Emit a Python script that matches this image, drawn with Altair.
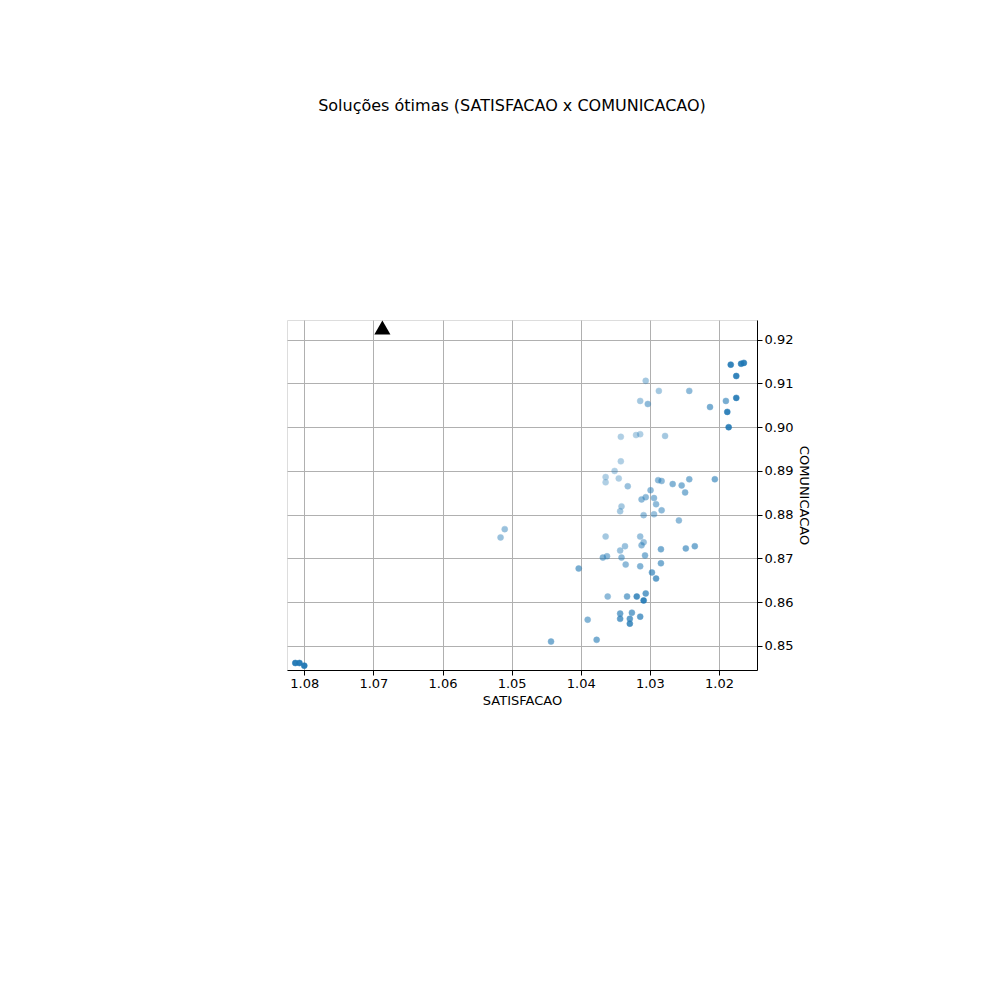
import altair as alt
import pandas as pd

sat = [1.0813,1.0807,1.0800,
       1.0183,1.0168,1.0164,1.0175,1.0190,1.0175,1.0188,1.0186,
       1.0306,1.0287,1.0243,1.0314,1.0303,1.0213,
       1.0342,1.0320,1.0314,1.0278,
       1.0342,1.0351,1.0364,1.0345,1.0364,1.0332,1.0299,1.0288,1.0283,1.0267,1.0254,1.0243,1.0206,1.0249,1.0306,1.0312,1.0294,1.0291,1.0341,1.0343,1.0309,1.0294,1.0283,1.0258,
       1.0510,1.0516,1.0364,1.0314,1.0309,1.0336,1.0312,1.0343,1.0362,1.0368,1.0341,1.0307,1.0248,1.0235,1.0284,1.0335,1.0314,1.0284,1.0297,1.0291,1.0403,
       1.0361,1.0333,1.0319,1.0309,1.0306,1.0343,1.0326,1.0343,1.0329,1.0314,1.0329,1.0390,1.0377,1.0443]
com = [0.8461,0.8461,0.8455,
       0.9143,0.9145,0.9147,0.9117,0.9060,0.9067,0.9035,0.9000,
       0.9106,0.9083,0.9083,0.9060,0.9053,0.9046,
       0.8978,0.8982,0.8984,0.8980,
       0.8922,0.8900,0.8886,0.8883,0.8874,0.8865,0.8856,0.8879,0.8877,0.8870,0.8867,0.8881,0.8881,0.8851,0.8840,0.8835,0.8838,0.8824,0.8819,0.8808,0.8799,0.8801,0.8810,0.8787,
       0.8767,0.8748,0.8750,0.8750,0.8737,0.8728,0.8730,0.8718,0.8705,0.8702,0.8702,0.8707,0.8723,0.8728,0.8721,0.8686,0.8682,0.8689,0.8668,0.8654,0.8677,
       0.8613,0.8613,0.8613,0.8604,0.8620,0.8574,0.8576,0.8562,0.8562,0.8567,0.8551,0.8560,0.8514,0.8510]
alpha = [0.95,0.95,0.95,
         0.9,0.9,0.9,0.9,0.6,0.9,0.9,0.9,
         0.4,0.4,0.5,0.4,0.5,0.6,
         0.35,0.35,0.35,0.4,
         0.35,0.35,0.35,0.35,0.35,0.45,0.5,0.5,0.5,0.55,0.55,0.55,0.6,0.55,0.5,0.5,0.5,0.5,0.4,0.4,0.45,0.45,0.5,0.5,
         0.45,0.45,0.4,0.45,0.45,0.45,0.5,0.45,0.5,0.55,0.5,0.55,0.6,0.6,0.6,0.5,0.55,0.6,0.65,0.7,0.6,
         0.5,0.6,0.8,0.9,0.7,0.65,0.65,0.7,0.7,0.7,0.8,0.55,0.6,0.6]

df = pd.DataFrame({"SATISFACAO": sat, "COMUNICACAO": com, "a": alpha})
tri = pd.DataFrame({"SATISFACAO": [1.0687], "COMUNICACAO": [0.9228]})

xs = alt.Scale(domain=[1.0825, 1.0145], nice=False, zero=False)
ys = alt.Scale(domain=[0.8445, 0.9245], nice=False, zero=False)
xticks = [1.08, 1.07, 1.06, 1.05, 1.04, 1.03, 1.02]
yticks = [0.85, 0.86, 0.87, 0.88, 0.89, 0.90, 0.91, 0.92]

pts = alt.Chart(df).mark_circle(size=36, color="#1f77b4", stroke="#1f77b4", strokeWidth=0.5).encode(
    x=alt.X("SATISFACAO:Q", scale=xs, axis=alt.Axis(values=xticks, format=".2f", title="SATISFACAO", labelFontSize=13, titleFontSize=13, titleFontWeight="normal", gridColor="#b0b0b0", domainColor="black", tickColor="black", labelColor="black", titleColor="black")),
    y=alt.Y("COMUNICACAO:Q", scale=ys, axis=alt.Axis(orient="right", values=yticks, format=".2f", title="COMUNICACAO", labelFontSize=13, titleFontSize=13, titleFontWeight="normal", gridColor="#b0b0b0", domainColor="black", tickColor="black", labelColor="black", titleColor="black")),
    opacity=alt.Opacity("a:Q", scale=None, legend=None),
)
t = alt.Chart(tri).mark_point(shape="triangle-up", size=260, filled=True, color="black", opacity=1).encode(
    x=alt.X("SATISFACAO:Q", scale=xs), y=alt.Y("COMUNICACAO:Q", scale=ys))

chart = (pts + t).properties(
    width=470, height=350,
    title=alt.TitleParams("Soluções ótimas (SATISFACAO x COMUNICACAO)", fontSize=16, fontWeight="normal", offset=206, dx=-10, font="DejaVu Sans"),
    autosize=alt.AutoSizeParams(type="none"),
    padding={"left": 279, "top": 312, "right": 200, "bottom": 300},
).configure_view(fill="#f2f2f2", stroke=None).configure(font="DejaVu Sans")

chart.save("out.html", embed_options={"renderer": "svg", "actions": False})
